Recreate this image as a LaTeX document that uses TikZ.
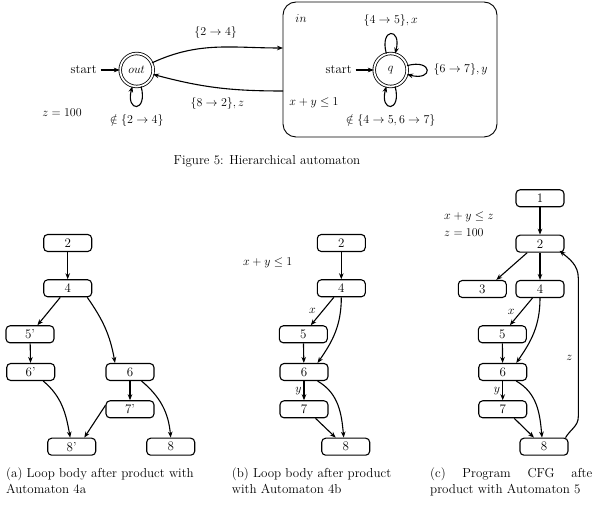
\documentclass[tikz,border=0pt]{standalone}
\usetikzlibrary{arrows.meta}
\begin{document}
\begin{tikzpicture}[x=1pt,y=1pt,
  font=\fontsize{13}{16.7}\selectfont,
  >={Stealth[length=6pt,width=4.6pt]},
  conn/.style={->,line width=1.1pt},
  cfgbox/.style={draw,rounded corners=4pt,line width=1.1pt,minimum width=48pt,minimum height=17pt,inner sep=0pt},
  autstate/.style={circle,draw,double,double distance=1.8pt,line width=0.8pt,minimum size=33pt,inner sep=0pt},
  txt/.style={inner sep=0pt},
  selfloop/.style={conn,looseness=8,min distance=22pt},
]
\useasboundingbox (0,0) rectangle (592,514);
% ---------- Figure 5 ----------
\node[autstate] (outst) at (136.7,444) {$out$};
\node[txt,anchor=east] (s1) at (97,444) {start};
\draw[conn] ([xshift=3.5pt]s1.east) -- (outst);
\draw[selfloop] (outst) to[out=-75,in=-105] node[below=5pt] {$\notin\{2\to4\}$} (outst);
\node[txt] (zeq) at (62,401) {$z=100$};

\node[draw,rounded corners=13pt,line width=0.9pt,minimum width=214pt,minimum height=135pt] (inbox) at (390,444.5) {};
\node[txt] (inl) at (301,495) {$in$};
\node[autstate] (q) at (390.7,444) {$q$};
\node[txt,anchor=east] (s2) at (352,444) {start};
\draw[conn] ([xshift=3.5pt]s2.east) -- (q);
\draw[selfloop] (q) to[out=105,in=75] node[above=4pt] {$\{4\to5\},x$} (q);
\draw[selfloop] (q) to[out=15,in=-15] node[right=3pt] {$\{6\to7\},y$} (q);
\draw[selfloop] (q) to[out=-75,in=-105] node[below=5pt] {$\notin\{4\to5,6\to7\}$} (q);
\node[txt] (cond1) at (314,411) {$x+y\le 1$};

\coordinate (e1) at (283,466);
\coordinate (e2) at (283,423);
\draw[conn] (outst) to[out=25,in=180] node[above=5pt] {$\{2\to4\}$} (e1);
\draw[conn] (e2) to[out=180,in=-15] node[below=6pt] {$\{8\to2\},z$} (outst);

\node[txt] (cap5) at (267,353) {Figure 5: Hierarchical automaton};

% ---------- (a) ----------
\node[cfgbox] (a2) at (67.7,271) {2};
\node[cfgbox] (a4) at (67.7,225.7) {4};
\node[cfgbox] (a5p) at (30,179.7) {5'};
\node[cfgbox] (a6p) at (30.7,142) {6'};
\node[cfgbox] (a6) at (130,142) {6};
\node[cfgbox] (a7p) at (130,104.7) {7'};
\node[cfgbox] (a8p) at (71.7,67.3) {8'};
\node[cfgbox] (a8) at (170.7,67.3) {8};
\draw[conn] (a2) -- (a4);
\draw[conn] (a4) -- (a5p);
\draw[conn] ([xshift=-5pt]a4.south east) to[out=-55,in=100] ([xshift=-15pt]a6.north);
\draw[conn] (a5p) -- (a6p);
\draw[conn] (a6) -- (a7p);
\draw[conn] ([xshift=-12pt]a6p.south east) to[out=-40,in=100] ([xshift=-1.5pt]a8p.north);
\draw[conn] ([yshift=4pt]a7p.west) -- ([xshift=-12pt]a8p.north east);
\draw[conn] ([xshift=-13pt]a6.south east) to[out=-40,in=95] (a8.north);
\node[txt,anchor=base west] (capa1) at (6,36.7) {(a) Loop body after product with};
\node[txt,anchor=base west] (capa2) at (6,20.7) {Automaton 4a};

% ---------- (b) ----------
\node[cfgbox] (b2) at (341.3,271) {2};
\node[cfgbox] (b4) at (341.3,225.7) {4};
\node[cfgbox] (b5) at (303.3,179.7) {5};
\node[cfgbox] (b6) at (304,142) {6};
\node[cfgbox] (b7) at (304,104.7) {7};
\node[cfgbox] (b8) at (345.7,67.3) {8};
\node[txt] (cond2) at (267.7,250.7) {$x+y\le 1$};
\draw[conn] (b2) -- (b4);
\draw[conn] (b4) -- node[txt,left=6pt] {$x$} (b5);
\draw[conn] (b4.south) to[out=-90,in=55] ([xshift=-11pt]b6.north east);
\draw[conn] (b5) -- (b6);
\draw[conn] (b6) -- node[txt,left=2pt] {$y$} (b7);
\draw[conn] ([xshift=-11pt]b6.south east) to[out=-30,in=95] ([xshift=-2pt]b8.north);
\draw[conn] ([xshift=-13pt]b7.south east) -- ([xshift=-10pt]b8.north);
\node[txt,anchor=base west] (capb1) at (231.7,36.7) {(b) Loop body after product};
\node[txt,anchor=base west] (capb2) at (231.7,20.7) {with Automaton 4b};

% ---------- (c) ----------
\node[cfgbox] (c1) at (540,315.7) {1};
\node[cfgbox] (c2) at (540,270.3) {2};
\node[cfgbox] (c3) at (482.3,225) {3};
\node[cfgbox] (c4) at (540,225) {4};
\node[cfgbox] (c5) at (502.3,179.7) {5};
\node[cfgbox] (c6) at (502.7,142) {6};
\node[cfgbox] (c7) at (502.7,104.7) {7};
\node[cfgbox] (c8) at (544,67.3) {8};
\node[txt,anchor=base west] (cond3) at (444,294.5) {$x+y\le z$};
\node[txt,anchor=base west] (cond4) at (444,277.5) {$z=100$};
\draw[conn] (c1) -- (c2);
\draw[conn] (c2) -- (c4);
\draw[conn] ([xshift=11.7pt]c2.south west) -- ([xshift=-10.6pt]c3.north east);
\draw[conn] (c4) -- node[txt,left=6pt] {$x$} (c5);
\draw[conn] (c4.south) to[out=-90,in=55] ([xshift=-11pt]c6.north east);
\draw[conn] (c5) -- (c6);
\draw[conn] (c6) -- node[txt,left=2pt] {$y$} (c7);
\draw[conn] ([xshift=-11pt]c6.south east) to[out=-30,in=95] ([xshift=-2pt]c8.north);
\draw[conn] ([xshift=-13pt]c7.south east) -- ([xshift=-10pt]c8.north);
\coordinate (zr1) at (578.3,97.3);
\coordinate (zr2) at (578.3,236);
\draw[conn] ([xshift=-3pt]c8.north east) to[out=60,in=-90] (zr1) -- (zr2) to[out=90,in=-40] ([xshift=-5pt,yshift=2pt]c2.south east);
\node[txt] (zl) at (569.3,156.3) {$z$};
\node[txt,anchor=base west] (capc1) at (430,36.7) {\makebox[167pt][s]{(c)\hfill Program\hfill CFG\hfill after}};
\node[txt,anchor=base west] (capc2) at (430,20.7) {product with Automaton 5};
\end{tikzpicture}
\end{document}
